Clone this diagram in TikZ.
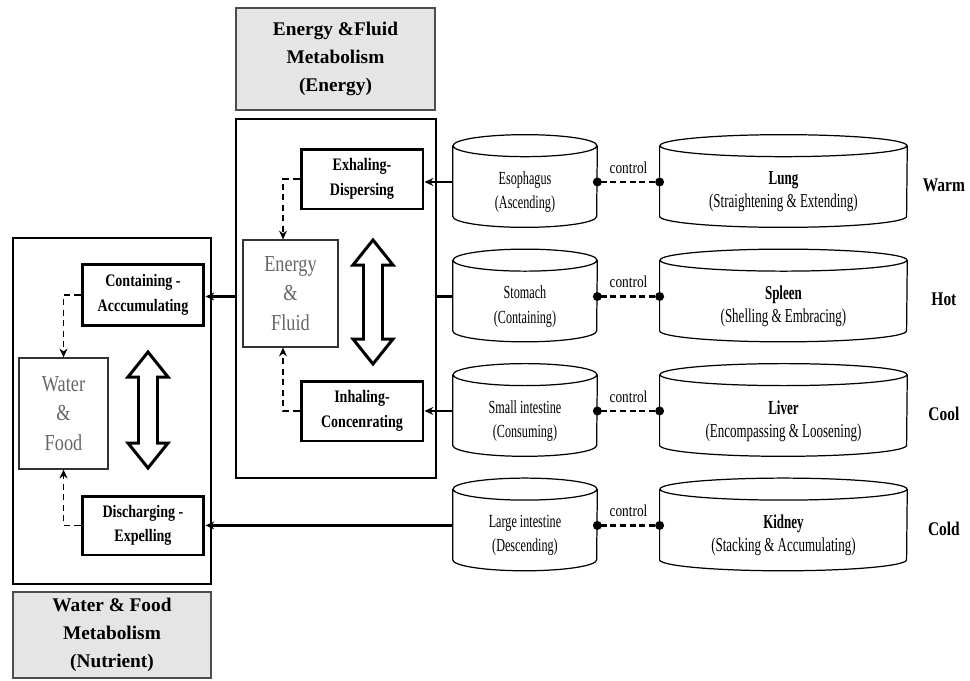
\documentclass[tikz,border=0pt]{standalone}
\usepackage{fontspec}
\setmainfont{Liberation Serif}
\newfontfamily\condfont[FakeStretch=0.8]{Liberation Serif}
\newfontfamily\narrowfont[FakeStretch=0.66]{Liberation Serif}
\usetikzlibrary{arrows.meta,positioning}

\newcommand\drumline[2]{%
  \draw[line width=0.7pt] ([yshift=0.22cm]#1.north west) -- ([yshift=0.22cm]#1.south west)
    arc[start angle=180, end angle=360, x radius=#2, y radius=0.22cm]
    -- ([yshift=0.22cm]#1.north east)
    ([yshift=0.22cm]#1.north) ellipse[x radius=#2, y radius=0.22cm];}
\newcommand\updown[2]{%
  \draw[line width=1.7pt, fill=white] (#1) ++(0,-#2) -- ++(20,25) -- ++(-10.5,0) -- ++(0,{2*#2-50})
    -- ++(10.5,0) -- ++(-20,25) -- ++(-20,-25) -- ++(10.5,0) -- ++(0,{50-2*#2}) -- ++(-10.5,0) -- cycle;}

\begin{document}
\begin{tikzpicture}[x=0.02cm, y=-0.02cm, node distance=2.29cm, >={Stealth[length=5pt,width=4.5pt]},
  heading/.style={draw=black!70, fill=black!10, line width=0.9pt, align=center, inner sep=0pt,
    font=\bfseries\fontsize{11}{16}\selectfont},
  panel/.style={draw, line width=0.7pt, inner sep=0pt},
  phase/.style={draw, line width=1.7pt, align=center, minimum width=2.44cm, minimum height=1.2cm,
    inner sep=0pt, font=\condfont\bfseries\fontsize{10}{14}\selectfont},
  pool/.style={draw=black!80, line width=0.7pt, text=black!60, align=center, inner sep=0pt,
    font=\condfont\fontsize{13}{17}\selectfont},
  organ/.style={align=center, minimum width=2.88cm, minimum height=1.4cm, inner sep=0pt,
    font=\narrowfont\fontsize{10.5}{14}\selectfont},
  viscus/.style={align=center, minimum width=4.94cm, minimum height=1.4cm, inner sep=0pt,
    font=\narrowfont\fontsize{11.2}{13}\selectfont},
  climate/.style={font=\condfont\bfseries\fontsize{11}{13}\selectfont},
  tag/.style={above=1pt, font=\condfont\fontsize{9.5}{11}\selectfont},
  feed/.style={->, line width=1.4pt},
  backflow/.style={-{Stealth[length=5pt,width=4.5pt]}, line width=1.1pt, dash pattern=on 3.5pt off 2.5pt},
  link/.style={{Circle[length=5pt]}-{Circle[length=5pt]}, line width=1.3pt,
    dash pattern=on 3.5pt off 2pt, shorten <=-2.5pt, shorten >=-2.5pt}]
\useasboundingbox (0,0) rectangle (970,680);

\node[heading, minimum width=3.98cm, minimum height=2.04cm] (energyhead) at (335.5,59) {Energy \&Fluid\\Metabolism\\(Energy)};
\node[panel, minimum width=4cm, minimum height=7.18cm] (energy) at (336,298.5) {};
\node[panel, minimum width=3.96cm, minimum height=6.92cm] (nutrient) at (112,411) {};
\node[heading, minimum width=3.96cm, minimum height=1.72cm] (nutrienthead) at (112,635) {Water \& Food\\Metabolism\\(Nutrient)};

\node[phase] (exhale) at (362,179) {Exhaling-\\Dispersing};
\node[phase] (inhale) at (362,411) {Inhaling-\\Concenrating};
\node[pool, minimum width=1.9cm, minimum height=2.14cm] (ef) at (290.5,293.5) {Energy\\\&\\Fluid};
\node[phase, minimum height=1.22cm] (contain) at (143,295) {Containing -\\Acccumulating};
\node[phase, minimum height=1.18cm] (discharge) at (143,525.5) {Discharging -\\Expelling};
\node[pool, minimum width=1.78cm, minimum height=2.22cm] (wf) at (63.5,413.5) {Water\\\&\\Food};
\updown{373,302}{62}
\updown{148,410}{58}

\node[organ] (eso) at (525,192) {Esophagus\\(Ascending)};
\node[organ, below of=eso] (sto) {Stomach\\(Containing)};
\node[organ, below of=sto] (si) {Small intestine\\(Consuming)};
\node[organ, below of=si] (li) {Large intestine\\(Descending)};
\node[viscus, right of=eso, xshift=2.88cm] (lung) {\textbf{Lung}\\(Straightening \& Extending)};
\node[viscus, below of=lung] (spleen) {\textbf{Spleen}\\(Shelling \& Embracing)};
\node[viscus, below of=spleen] (liver) {\textbf{Liver}\\(Encompassing \& Loosening)};
\node[viscus, below of=liver] (kidney) {\textbf{Kidney}\\(Stacking \& Accumulating)};
\drumline{eso}{1.44cm}
\drumline{sto}{1.44cm}
\drumline{si}{1.44cm}
\drumline{li}{1.44cm}
\drumline{lung}{2.47cm}
\drumline{spleen}{2.47cm}
\drumline{liver}{2.47cm}
\drumline{kidney}{2.47cm}

\node[climate, right of=lung, xshift=0.92cm, yshift=0.14cm] (warm) {Warm};
\node[climate, right of=spleen, xshift=0.92cm, yshift=0.14cm] (hot) {Hot};
\node[climate, right of=liver, xshift=0.92cm, yshift=0.14cm] (cool) {Cool};
\node[climate, right of=kidney, xshift=0.92cm, yshift=0.14cm] (cold) {Cold};

\coordinate (eso-w) at ([yshift=0.2cm]eso.west);
\coordinate (sto-w) at ([yshift=0.2cm]sto.west);
\coordinate (si-w) at ([yshift=0.2cm]si.west);
\coordinate (li-w) at ([yshift=0.2cm]li.west);

\draw[link] ([yshift=0.2cm]eso.east) -- node[tag] {control} ([yshift=0.2cm]lung.west);
\draw[link] ([yshift=0.2cm]sto.east) -- node[tag] {control} ([yshift=0.2cm]spleen.west);
\draw[link] ([yshift=0.2cm]si.east) -- node[tag] {control} ([yshift=0.2cm]liver.west);
\draw[link] ([yshift=0.2cm]li.east) -- node[tag] {control} ([yshift=0.2cm]kidney.west);

\draw[feed] (eso-w) -- (eso-w -| exhale.east);
\draw[line width=1.4pt] (sto-w) -- (sto-w -| energy.east);
\draw[feed] (sto-w -| energy.west) -- (sto-w -| contain.east);
\draw[feed] (si-w) -- (si-w -| inhale.east);
\draw[feed] (li-w) -- (li-w -| discharge.east);

\draw[backflow] (exhale.west) -| ([xshift=-0.15cm]ef.north);
\draw[backflow] (inhale.west) -| ([xshift=-0.15cm]ef.south);
\draw[backflow] (contain.west) -| (wf.north);
\draw[backflow] (discharge.west) -| (wf.south);
\end{tikzpicture}
\end{document}
